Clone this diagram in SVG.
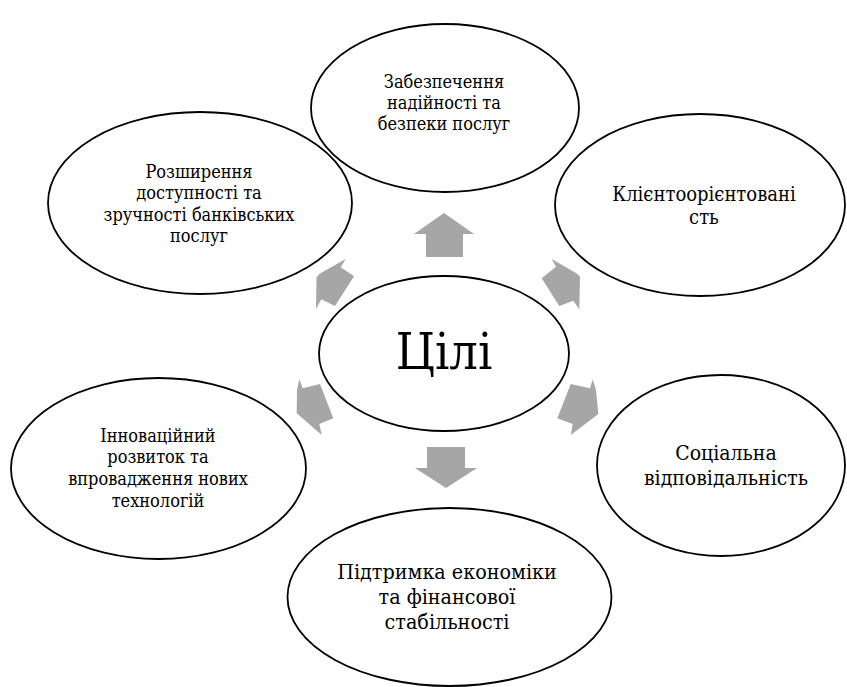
<svg xmlns="http://www.w3.org/2000/svg" width="847" height="687" viewBox="0 0 847 687">
<style>
.node{fill:#fff;stroke:#000;stroke-width:1.8}
.arr{fill:#a6a6a6;stroke:none}
.lbl{font-family:"DejaVu Serif",serif;font-stretch:condensed;fill:#000;text-anchor:middle}
</style>
<rect width="847" height="687" fill="#fff"/>
<g id="connectors">
<polygon class="arr" points="444,213 474,234 463,234 463,257 426,257 426,234 414,234"/>
<polygon class="arr" points="427,447 465,447 465,468 477,468 446,488 415,468 427,468"/>
<polygon class="arr" points="345.7,259 340.7,267.3 354,276.3 335,306 321.3,299.3 316,309 316.5,277.3 320,273.5"/>
<polygon class="arr" points="551.7,259 556,266.7 541.7,278.3 559.3,306 573.3,300.7 579.3,309.3 580,276.7 576.7,273.5"/>
<polygon class="arr" points="299.3,379.3 302.7,388.3 320,384 333.3,418.3 319.3,424 321.7,435 296.7,413.3 297,390"/>
<polygon class="arr" points="592.7,379.3 590,388.3 570.7,384 557.3,418.3 572.7,424 570.7,435 598.3,414 596,390"/>
</g>
<g id="n-top" class="lbl" font-size="18">
<ellipse class="node" cx="445" cy="108" rx="134" ry="84"/>
<text x="444" y="88">Забезпечення</text>
<text x="444" y="109">надійності та</text>
<text x="444" y="130">безпеки послуг</text>
</g>
<g id="n-left" class="lbl" font-size="18">
<ellipse class="node" cx="200" cy="203" rx="152" ry="91"/>
<text x="199" y="178">Розширення</text>
<text x="199" y="199">доступності та</text>
<text x="199" y="220.5">зручності банківських</text>
<text x="199" y="241.5">послуг</text>
</g>
<g id="n-right" class="lbl" font-size="20">
<ellipse class="node" cx="700" cy="205" rx="145" ry="91"/>
<text x="704" y="200.5">Клієнтоорієнтовані</text>
<text x="704" y="224">сть</text>
</g>
<g id="n-botleft" class="lbl" font-size="18">
<ellipse class="node" cx="158.5" cy="468.5" rx="147.5" ry="90.5"/>
<text x="158" y="441.5">Інноваційний</text>
<text x="158" y="463">розвиток та</text>
<text x="158" y="485">впровадження нових</text>
<text x="158" y="506.5">технологій</text>
</g>
<g id="n-botright" class="lbl" font-size="21">
<ellipse class="node" cx="721" cy="465.5" rx="124" ry="90.5"/>
<text x="726" y="460">Соціальна</text>
<text x="726" y="485">відповідальність</text>
</g>
<g id="n-bottom" class="lbl" font-size="21.3">
<ellipse class="node" cx="449.5" cy="597" rx="162" ry="89"/>
<text x="447" y="579">Підтримка економіки</text>
<text x="447" y="604">та фінансової</text>
<text x="447" y="629">стабільності</text>
</g>
<g id="n-center" class="lbl" font-size="50">
<ellipse class="node" cx="444" cy="353.5" rx="125" ry="77.5"/>
<text x="444" y="369">Цілі</text>
</g>
</svg>
